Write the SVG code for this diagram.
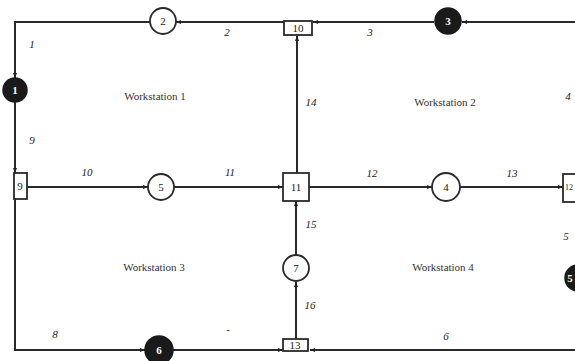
<svg xmlns="http://www.w3.org/2000/svg" width="575" height="361" viewBox="0 0 575 361">
<defs>
<marker id="ah" viewBox="0 0 10 10" refX="10" refY="5" markerWidth="5" markerHeight="5" orient="auto" markerUnits="userSpaceOnUse">
<path d="M0,1 L10,5 L0,9 z" fill="#222"/>
</marker>
<style>
.e{fill:none;stroke:#2a2a2a;stroke-width:2;marker-end:url(#ah)}
.n{fill:#fff;stroke:#2a2a2a;stroke-width:1.8}
.b{fill:#1a1a1a;stroke:#1a1a1a;stroke-width:1.5}
.t{font-family:"Liberation Serif",serif;font-size:11px;fill:#222;text-anchor:middle}
.tw{font-family:"Liberation Serif",serif;font-size:11px;font-weight:bold;fill:#fff;text-anchor:middle}
.l{font-family:"Liberation Serif",serif;font-size:11px;font-style:italic;fill:#222;text-anchor:middle}
.w{font-family:"Liberation Serif",serif;font-size:11px;fill:#333;text-anchor:middle}
</style>
</defs>
<rect width="575" height="361" fill="#fff"/>
<g id="connectors">
<path class="e" d="M577,22 L462,22"/>
<path class="e" d="M434,22 L313,22"/>
<path class="e" d="M284,22 L176,22"/>
<path class="e" d="M150,22 L15,22 L15,78"/>
<path class="e" d="M15,102 L15,173"/>
<path class="e" d="M27,187 L148,187"/>
<path class="e" d="M174,187 L283,187"/>
<path class="e" d="M309,187 L432,187"/>
<path class="e" d="M460,187 L563,187"/>
<path class="e" d="M577,203 L577,266"/>
<path class="e" d="M297,173 L297,36"/>
<path class="e" d="M296,255 L296,201"/>
<path class="e" d="M296,339 L296,282"/>
<path class="e" d="M15,199 L15,350 L145,350"/>
<path class="e" d="M173,350 L283,350"/>
<path class="e" d="M577,290 L577,350 L310,350"/>
</g>
<g id="node3"><circle class="b" cx="448" cy="21" r="13"/><text class="tw" x="448" y="25">3</text></g>
<g id="node10"><rect class="n" x="284" y="21" width="28" height="14"/><text class="t" x="298" y="32">10</text></g>
<g id="node2"><circle class="n" cx="163" cy="21" r="13"/><text class="t" x="163" y="25">2</text></g>
<g id="node1"><circle class="b" cx="15" cy="90" r="12"/><text class="tw" x="15" y="94">1</text></g>
<g id="node9"><rect class="n" x="14" y="173" width="13" height="26"/><text class="t" x="20" y="190">9</text></g>
<g id="node5"><circle class="n" cx="161" cy="187" r="13"/><text class="t" x="161" y="191">5</text></g>
<g id="node11"><rect class="n" x="283" y="173" width="26" height="28"/><text class="t" x="296" y="191">11</text></g>
<g id="node4"><circle class="n" cx="446" cy="187" r="14"/><text class="t" x="446" y="191">4</text></g>
<g id="node12"><rect class="n" x="563" y="174" width="20" height="28"/><text class="t" x="569" y="190" style="font-size:8px">12</text></g>
<g id="node5b"><circle class="b" cx="578" cy="278" r="13"/><text class="tw" x="570" y="282">5</text></g>
<g id="node7"><circle class="n" cx="296" cy="268" r="13"/><text class="t" x="296" y="272">7</text></g>
<g id="node13"><rect class="n" x="283" y="339" width="25" height="12"/><text class="t" x="295" y="349">13</text></g>
<g id="node6"><circle class="b" cx="159" cy="350" r="14"/><text class="tw" x="159" y="354">6</text></g>
<g id="labels">
<text class="l" x="32" y="48">1</text>
<text class="l" x="227" y="36">2</text>
<text class="l" x="370" y="36">3</text>
<text class="l" x="568" y="100">4</text>
<text class="l" x="32" y="144">9</text>
<text class="l" x="87" y="176">10</text>
<text class="l" x="230" y="176">11</text>
<text class="l" x="372" y="177">12</text>
<text class="l" x="512" y="177">13</text>
<text class="l" x="311" y="106">14</text>
<text class="l" x="311" y="228">15</text>
<text class="l" x="310" y="309">16</text>
<text class="l" x="566" y="240">5</text>
<text class="l" x="55" y="338">8</text>
<text class="l" x="228" y="333">-</text>
<text class="l" x="446" y="340">6</text>
<text class="w" x="155" y="100">Workstation 1</text>
<text class="w" x="445" y="106">Workstation 2</text>
<text class="w" x="154" y="271">Workstation 3</text>
<text class="w" x="443" y="271">Workstation 4</text>
</g>
</svg>
